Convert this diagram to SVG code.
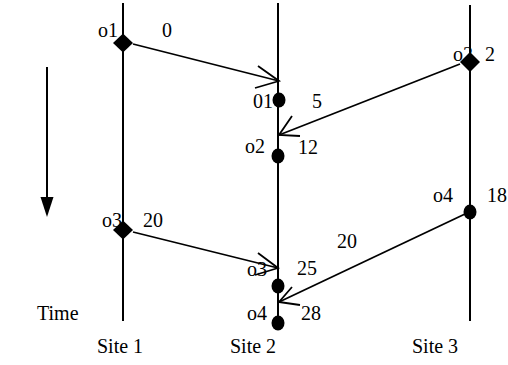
<svg xmlns="http://www.w3.org/2000/svg" width="508" height="365" viewBox="0 0 508 365">
<defs>
<style>
text{font-family:"Liberation Serif","Times New Roman",serif;font-size:20px;fill:#000}
.site{stroke:#000;stroke-width:2;fill:none}
.msg{stroke:#000;stroke-width:1.8;fill:none}
.dot{fill:#000}
</style>
</defs>
<rect width="508" height="365" fill="#fff"/>
<g id="site1"><line class="site" x1="123" y1="3" x2="123" y2="321"/><text x="97" y="353">Site 1</text></g>
<g id="site2"><line class="site" x1="278" y1="3" x2="278" y2="322"/><text x="230" y="353">Site 2</text></g>
<g id="site3"><line class="site" x1="470" y1="5" x2="470" y2="321"/><text x="412" y="353">Site 3</text></g>
<g id="time"><line class="site" x1="47" y1="67" x2="47" y2="200"/><polygon points="40.5,197 53.5,197 47,217" fill="#000"/><text x="37" y="320">Time</text></g>
<g id="s1o1"><polygon class="dot" points="123,33.5 133,43 123,52.5 113,43"/><text x="98" y="37">o1</text></g>
<g id="s1o3"><polygon class="dot" points="123,220.5 133,230 123,239.5 113,230"/><text x="102" y="227">o3</text></g>
<g id="s3o2"><polygon class="dot" points="470,52 480,62 470,72 460,62"/><text x="453" y="61">o2</text></g>
<g id="s3o4"><ellipse class="dot" cx="470" cy="212" rx="6.5" ry="7.5"/><text x="433" y="202">o4</text></g>
<g id="s2o1"><ellipse class="dot" cx="279" cy="100" rx="6.5" ry="7.5"/><text x="253" y="108">01</text></g>
<g id="s2o2"><ellipse class="dot" cx="278" cy="156" rx="6.5" ry="7.5"/><text x="245" y="153">o2</text></g>
<g id="s2o3"><ellipse class="dot" cx="278" cy="286" rx="6.5" ry="7.5"/><text x="247" y="276">o3</text></g>
<g id="s2o4"><ellipse class="dot" cx="278" cy="323" rx="6.5" ry="7.5"/><text x="247" y="320">o4</text></g>
<g id="connectors">
<line class="msg" x1="133" y1="44" x2="279" y2="81"/>
<polyline class="msg" points="258,66 279,81 255,88"/>
<line class="msg" x1="460" y1="64" x2="279" y2="135"/>
<polyline class="msg" points="292,116 279,135 300,136"/>
<line class="msg" x1="133" y1="232" x2="278" y2="268"/>
<polyline class="msg" points="258,253 278,268 255,275"/>
<line class="msg" x1="465" y1="214" x2="279" y2="302"/>
<polyline class="msg" points="292,287 279,302 300,305"/>
</g>
<g id="labels">
<text x="162" y="37">0</text>
<text x="485" y="61">2</text>
<text x="312" y="108">5</text>
<text x="298" y="154">12</text>
<text x="143" y="227">20</text>
<text x="297" y="275">25</text>
<text x="337" y="248">20</text>
<text x="301" y="320">28</text>
<text x="487" y="202">18</text>
</g>
</svg>
